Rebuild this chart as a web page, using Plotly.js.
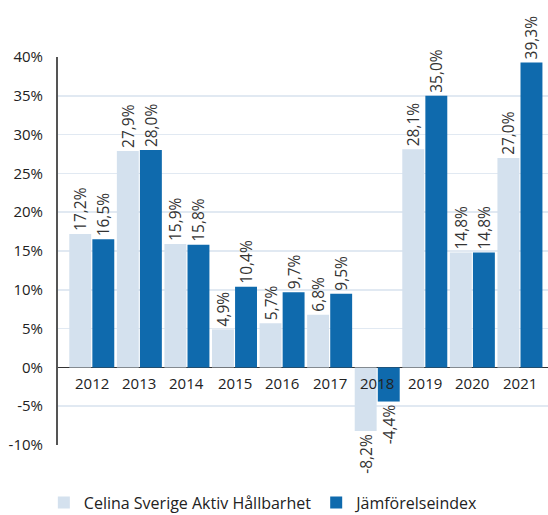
<!DOCTYPE html>
<html><head><meta charset="utf-8">
<script src="https://cdn.plot.ly/plotly-3.0.1.min.js"></script>
<style>html,body{margin:0;padding:0;background:#fff}#chart{width:548px;height:515px}</style>
</head><body><div id="chart"></div>
<script>
const years = ['2012','2013','2014','2015','2016','2017','2018','2019','2020','2021'];
const fundName = 'Celina Sverige Aktiv Hållbarhet';
const indexName = 'Jämförelseindex';
const fundValues = [17.2, 27.9, 15.9, 4.9, 5.7, 6.8, -8.2, 28.1, 14.8, 27.0];
const indexValues = [16.5, 28.0, 15.8, 10.4, 9.7, 9.5, -4.4, 35.0, 14.8, 39.3];
const yTickVals = [-10, -5, 0, 5, 10, 15, 20, 25, 30, 35, 40];

const fmt = v => v.toFixed(1).replace('.', ',') + '%';
const FONT = '"Open Sans", Lato, sans-serif';

const common = {
  type: 'bar', textposition: 'outside', textangle: -90, cliponaxis: false,
  constraintext: 'none',
  textfont: {family: FONT, size: 15.5, color: '#333'}
};
const traces = [
  Object.assign({}, common, {x: years, y: fundValues, name: fundName,
    text: fundValues.map(fmt), marker: {color: '#d4e1ee'}}),
  Object.assign({}, common, {x: years, y: indexValues, name: indexName,
    text: indexValues.map(fmt), marker: {color: '#0f6aad'}})
];

const annotations = years.map((y, i) => ({
  x: i, y: 0, xref: 'x', yref: 'y', text: y, showarrow: false,
  yanchor: 'middle', yshift: -16,
  font: {family: FONT, size: 15, color: '#222'}
}));

const layout = {
  width: 548, height: 515,
  margin: {l: 58, r: 0, t: 57, b: 70, autoexpand: false},
  paper_bgcolor: '#fff', plot_bgcolor: '#fff',
  barmode: 'group', bargap: 0.03, bargroupgap: 0.05,
  showlegend: true,
  legend: {orientation: 'h', x: 0.08, xref: 'container', xanchor: 'left',
    y: 0.024, yref: 'container', yanchor: 'middle', itemgap: 36,
    font: {family: FONT, size: 16, color: '#222'}, itemwidth: 30, traceorder: 'normal'},
  xaxis: {type: 'category', range: [-0.71, 9.59], showticklabels: false,
    showgrid: false, zeroline: false, showline: false, ticks: ''},
  yaxis: {range: [-10, 40], tickvals: yTickVals, ticktext: yTickVals.map(v => v + '%'),
    showgrid: true, gridcolor: '#e1e9f2', gridwidth: 1.5,
    zeroline: true, zerolinecolor: '#333', zerolinewidth: 1.5,
    showline: true, linecolor: '#555', linewidth: 2,
    ticks: '', ticklabelstandoff: 10,
    tickfont: {family: FONT, size: 15, color: '#222'}},
  annotations: annotations
};
Plotly.newPlot('chart', traces, layout, {displayModeBar: false, staticPlot: true});
</script></body></html>
